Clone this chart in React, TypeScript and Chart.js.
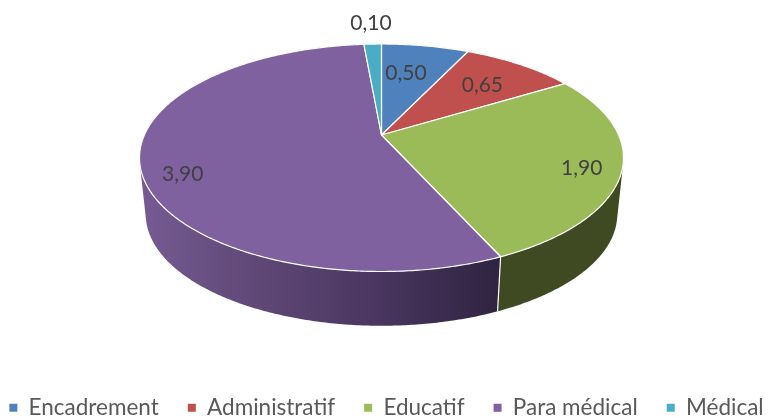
import React, { useEffect, useRef } from "react";
import { Chart, registerables } from "chart.js";

Chart.register(...registerables);

const categories = ["Encadrement", "Administratif", "Educatif", "Para médical", "Médical"];
const values = [0.5, 0.65, 1.9, 3.9, 0.1];
const valueLabels = ["0,50", "0,65", "1,90", "3,90", "0,10"];
const colors = ["#4f81bd", "#c0504d", "#9bbb59", "#7f61a0", "#4bacc6"];
const wallColors = ["#2f4d71", "#73302e", "#3f4a22", "#4c3b61", "#2d6776"];
const labelRadii = [0.65, 0.7, 0.84, 0.83, 1.25];
const labelNudges = [[-5.7, -0.6], [0, 1.4], [0, 4.4], [0, 15], [0, -3]];

const FONT = "Lato, 'Open Sans', sans-serif";
const K = 0.2;
const TOP = { cx: 381.5, cy: 135, a: 109.2, b: 237.1 };
const BOTTOM = { cx: 381.5, cy: 192, a: 107, b: 231 };

function project(face: typeof TOP, theta: number, r = 1): [number, number] {
  const u = r * Math.sin(theta);
  const v = r * Math.cos(theta);
  const d = 1 + K * v;
  return [face.cx + (face.b * u) / d, face.cy - (face.a * v) / d];
}

function arcPoints(face: typeof TOP, s: number, e: number): [number, number][] {
  const n = Math.max(2, Math.ceil((e - s) / 0.01));
  const pts: [number, number][] = [];
  for (let i = 0; i <= n; i++) pts.push(project(face, s + ((e - s) * i) / n));
  return pts;
}

function signedArea(q: [number, number][]): number {
  let area = 0;
  q.forEach((p, i) => {
    const n = q[(i + 1) % q.length];
    area += p[0] * n[1] - n[0] * p[1];
  });
  return area;
}

const pie3d = {
  id: "pie3d",
  beforeDatasetDraw() {
    return false;
  },
  afterDatasetsDraw(chart: any) {
    const ctx: CanvasRenderingContext2D = chart.ctx;
    const arcs = chart.getDatasetMeta(0).data;
    const range = arcs.map((a: any) => [a.startAngle + Math.PI / 2, a.endAngle + Math.PI / 2]);
    ctx.save();
    ctx.lineJoin = "round";

    // walls: swept quads between the top rim and the bottom rim, filled as one path
    const grad = ctx.createLinearGradient(141, 0, 498, 0);
    grad.addColorStop(0, "#755b92");
    grad.addColorStop(0.33, "#5f4776");
    grad.addColorStop(0.66, "#4a3660");
    grad.addColorStop(1, "#2f2441");
    range.forEach(([s, e]: number[], i: number) => {
      const t = arcPoints(TOP, s, e);
      const b = arcPoints(BOTTOM, s, e);
      ctx.fillStyle = i === 3 ? grad : wallColors[i];
      ctx.beginPath();
      for (let j = 0; j < t.length - 1; j++) {
        let q: [number, number][] = [t[j], t[j + 1], b[j + 1], b[j]];
        if (signedArea(q) < 0) q = q.reverse();
        q.forEach((p, k) => (k ? ctx.lineTo(p[0], p[1]) : ctx.moveTo(p[0], p[1])));
        ctx.closePath();
      }
      ctx.fill("nonzero");
    });
    // visible wall separators
    range.forEach(([s]: number[]) => {
      if (Math.cos(s) < -0.5) {
        const a = project(TOP, s);
        const b = project(BOTTOM, s);
        ctx.beginPath();
        ctx.moveTo(a[0], a[1]);
        ctx.lineTo(b[0], b[1]);
        ctx.strokeStyle = "#ffffff";
        ctx.lineWidth = 1.2;
        ctx.stroke();
      }
    });

    // top face
    range.forEach(([s, e]: number[], i: number) => {
      ctx.beginPath();
      ctx.moveTo(TOP.cx, TOP.cy);
      arcPoints(TOP, s, e).forEach((p) => ctx.lineTo(p[0], p[1]));
      ctx.closePath();
      ctx.fillStyle = colors[i];
      ctx.fill();
      ctx.strokeStyle = "#ffffff";
      ctx.lineWidth = 1.2;
      ctx.stroke();
    });

    // value labels
    ctx.font = `21px ${FONT}`;
    ctx.fillStyle = "#404040";
    ctx.textAlign = "center";
    ctx.textBaseline = "middle";
    range.forEach(([s, e]: number[], i: number) => {
      const p = project(TOP, (s + e) / 2, labelRadii[i]);
      ctx.fillText(valueLabels[i], p[0] + labelNudges[i][0], p[1] + labelNudges[i][1]);
    });
    ctx.restore();
  },
};

export default function App() {
  const ref = useRef<HTMLCanvasElement>(null);
  useEffect(() => {
    document.body.style.margin = "0";
    const chart = new Chart(ref.current!, {
      type: "pie",
      data: {
        labels: categories,
        datasets: [{ data: values, backgroundColor: colors, borderWidth: 0 }],
      },
      options: {
        responsive: false,
        animation: false,
        layout: { padding: { left: -43, right: -47, bottom: -12 } },
        plugins: {
          tooltip: { enabled: false },
          legend: {
            position: "bottom",
            labels: {
              boxWidth: 8,
              boxHeight: 8,
              padding: 29,
              color: "#595959",
              font: { size: 22.5, family: FONT },
            },
          },
        },
      },
      plugins: [pie3d],
    } as any);
    return () => chart.destroy();
  }, []);
  return (
    <div style={{ position: "absolute", left: 0, top: 0, width: 769, height: 417, background: "#fff" }}>
      <canvas ref={ref} width={769} height={417} style={{ display: "block" }} />
    </div>
  );
}
